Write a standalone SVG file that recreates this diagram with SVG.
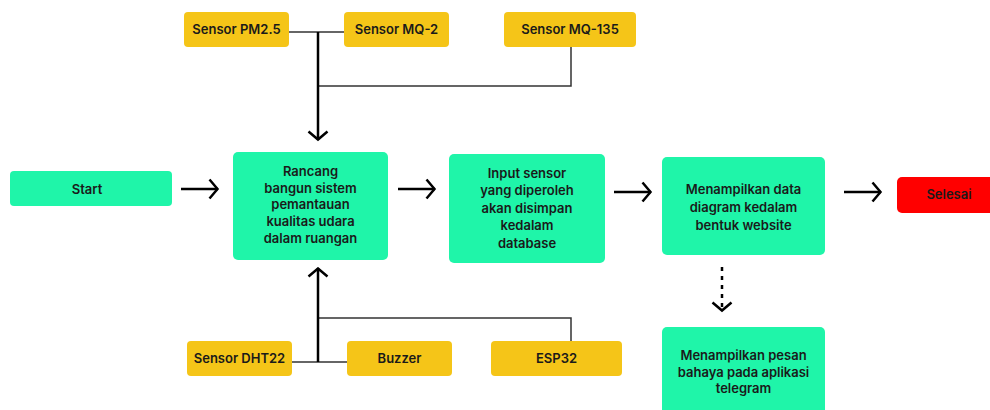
<svg xmlns="http://www.w3.org/2000/svg" width="990" height="410" viewBox="0 0 990 410">
<defs>
<style>
.g{fill:#1ff5a9}
.y{fill:#f5c518}
.r{fill:#ff0000}
text{font-family:Inter,"Noto Sans","Liberation Sans",sans-serif;font-size:13px;font-weight:600;fill:#1a1a1a;text-anchor:middle}
.thin{fill:none;stroke:#333;stroke-width:1.5}
.thick{fill:none;stroke:#000;stroke-width:2.5}
.dash{fill:none;stroke:#000;stroke-width:2.5;stroke-dasharray:4 5}
</style>
<marker id="ah" viewBox="0 0 12 24" refX="10.5" refY="12" markerWidth="12" markerHeight="24" markerUnits="userSpaceOnUse" orient="auto">
<path d="M2,2.5 L10,12 L2,21.5" fill="none" stroke="#000" stroke-width="2.5"/>
</marker>
</defs>
<rect width="990" height="410" fill="#fff"/>
<g id="connectors">
<path class="thin" d="M289,32 H344"/>
<path class="thin" d="M571,47 V86 H318"/>
<path class="thick" d="M318,32 V140" marker-end="url(#ah)"/>
<path class="thin" d="M292,362 H347"/>
<path class="thin" d="M571,341 V318 H318"/>
<path class="thick" d="M318,362 V268" marker-end="url(#ah)"/>
<path class="thick" d="M181,189 H218" marker-end="url(#ah)"/>
<path class="thick" d="M398,189 H435" marker-end="url(#ah)"/>
<path class="thick" d="M614,192 H651" marker-end="url(#ah)"/>
<path class="thick" d="M844,192 H881" marker-end="url(#ah)"/>
<path class="dash" d="M722,267 V311" marker-end="url(#ah)"/>
</g>
<g id="pm25"><rect class="y" x="184" y="12" width="105" height="35" rx="4"/><text x="236.5" y="34">Sensor PM2.5</text></g>
<g id="mq2"><rect class="y" x="344" y="12" width="105" height="35" rx="4"/><text x="396.5" y="34">Sensor MQ-2</text></g>
<g id="mq135"><rect class="y" x="504" y="12" width="132" height="35" rx="4"/><text x="570" y="34">Sensor MQ-135</text></g>
<g id="start"><rect class="g" x="10" y="171" width="162" height="35" rx="4"/><text x="87" y="193.5">Start</text></g>
<g id="rancang"><rect class="g" x="233" y="152" width="155" height="108" rx="5"/>
<text x="310.5" y="175.5">Rancang</text>
<text x="310.5" y="192.5">bangun sistem</text>
<text x="310.5" y="209">pemantauan</text>
<text x="310.5" y="226">kualitas udara</text>
<text x="310.5" y="242.5">dalam ruangan</text></g>
<g id="input"><rect class="g" x="449" y="154" width="156" height="109" rx="5"/>
<text x="527" y="177.5">Input sensor</text>
<text x="527" y="195">yang diperoleh</text>
<text x="527" y="212.5">akan disimpan</text>
<text x="527" y="230">kedalam</text>
<text x="527" y="247.5">database</text></g>
<g id="tampil"><rect class="g" x="662" y="157" width="163" height="98" rx="5"/>
<text x="743.5" y="193.5">Menampilkan data</text>
<text x="743.5" y="211.5">diagram kedalam</text>
<text x="743.5" y="229.5">bentuk website</text></g>
<g id="selesai"><rect class="r" x="897" y="177" width="104" height="36" rx="5"/><text x="949" y="199">Selesai</text></g>
<g id="telegram"><rect class="g" x="662" y="327" width="163" height="95" rx="5"/>
<text x="743.5" y="359.5">Menampilkan pesan</text>
<text x="743.5" y="376.5">bahaya pada aplikasi</text>
<text x="743.5" y="393">telegram</text></g>
<g id="dht22"><rect class="y" x="187" y="341" width="105" height="35" rx="4"/><text x="239.5" y="363">Sensor DHT22</text></g>
<g id="buzzer"><rect class="y" x="347" y="341" width="105" height="35" rx="4"/><text x="399.5" y="363">Buzzer</text></g>
<g id="esp32"><rect class="y" x="491" y="341" width="131" height="35" rx="4"/><text x="556.5" y="363">ESP32</text></g>
</svg>
